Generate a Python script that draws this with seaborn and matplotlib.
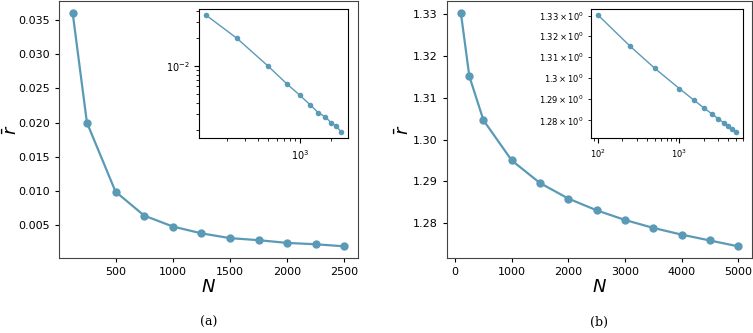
import matplotlib
matplotlib.use("Agg")
import matplotlib.pyplot as plt
import seaborn as sns
import pandas as pd

# Data
N_a = [125, 250, 500, 750, 1000, 1250, 1500, 1750, 2000, 2250, 2500]
r_a = [0.0361, 0.0200, 0.0099, 0.0064, 0.0048, 0.0038, 0.0031, 0.0028, 0.0024, 0.0022, 0.0019]
N_b = [100, 250, 500, 1000, 1500, 2000, 2500, 3000, 3500, 4000, 4500, 5000]
r_b = [1.3303, 1.3151, 1.3046, 1.2950, 1.2896, 1.2859, 1.2831, 1.2808, 1.2789, 1.2773, 1.2759, 1.2745]
captions = ["(a)", "(b)"]

color = "#5a9ab6"
plt.rcParams["mathtext.fontset"] = "dejavusans"

fig = plt.figure(figsize=(7.53, 3.33), dpi=100)

main_pos = [[0.0784, 0.2252, 0.397, 0.772], [0.5936, 0.2252, 0.405, 0.772]]
inset_pos = [[0.2643, 0.5856, 0.1979, 0.387], [0.7849, 0.5856, 0.2019, 0.387]]

for i, (N, r) in enumerate([(N_a, r_a), (N_b, r_b)]):
    df = pd.DataFrame({"N": N, "r": r})
    ax = fig.add_axes(main_pos[i])
    sns.lineplot(data=df, x="N", y="r", ax=ax, color=color, marker="o",
                 markersize=6, linewidth=1.6, markeredgewidth=0)
    ax.set_xlabel("$N$", fontsize=13, labelpad=1)
    ax.set_ylabel(r"$\bar{r}$", fontsize=13)
    ax.tick_params(labelsize=8, length=3)
    for s in ax.spines.values():
        s.set_color("#444444")
    ax.text(0.5, -0.25, captions[i], transform=ax.transAxes, ha="center", va="center",
            fontsize=9, family="DejaVu Serif")

    axi = fig.add_axes(inset_pos[i])
    sns.lineplot(data=df, x="N", y="r", ax=axi, color=color, marker="o",
                 markersize=4, linewidth=1.0, markeredgewidth=0)
    axi.set_xscale("log")
    axi.set_yscale("log")
    axi.set_xlabel("")
    axi.set_ylabel("")
    axi.tick_params(which="both", labelsize=7)

fig.axes[0].yaxis.set_label_coords(-0.128, 0.5)
fig.axes[2].yaxis.set_label_coords(-0.112, 0.5)
fig.axes[3].tick_params(which="both", labelsize=6)

fig.savefig("out.png", dpi=100)
